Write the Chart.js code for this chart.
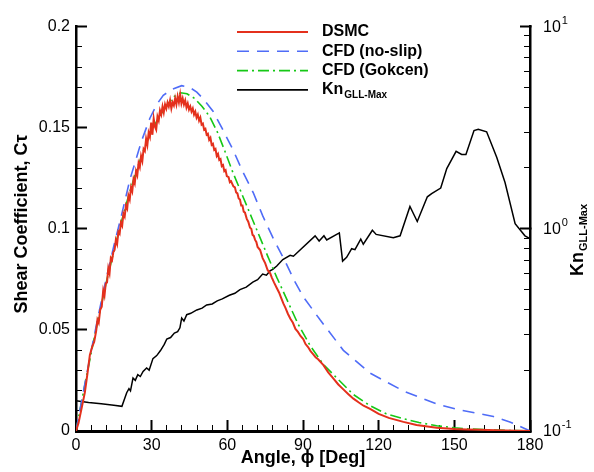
<!DOCTYPE html>
<html>
<head>
<meta charset="utf-8">
<script src="https://cdn.jsdelivr.net/npm/chart.js@4.4.1/dist/chart.umd.min.js"></script>
<style>
  body { margin: 0; background: #fff; }
  canvas { display: block; }
</style>
</head>
<body>
<canvas id="c" width="594" height="472"></canvas>
<script>
// Dados
const dsmcAngle = [0, 1, 2.3, 3.5, 4.5, 5.5, 6.5, 7.2, 8, 8.5,
  9, 9.6, 10.2, 10.8, 11.3, 11.8, 12.3, 12.8, 13.3, 13.8,
  14.3, 14.8, 15.3, 15.8, 16.3, 16.8, 17.3, 17.8, 18.3, 18.8,
  19.3, 19.8, 20.3, 20.8, 21.3, 21.8, 22.3, 22.8, 23.3, 23.8,
  24.3, 24.8, 25.3, 25.8, 26.3, 26.8, 27.3, 27.8, 28.3, 28.8,
  29.3, 29.8, 30.3, 30.8, 31.3, 31.8, 32.3, 32.8, 33.3, 33.8,
  34.3, 34.8, 35.3, 35.8, 36.3, 36.8, 37.3, 37.8, 38.3, 38.8,
  39.3, 39.8, 40.3, 40.8, 41.3, 41.8, 42.3, 42.8, 43.3, 43.8,
  44.3, 44.8, 45.3, 45.8, 46.3, 46.8, 47.3, 47.8, 48.3, 48.8,
  49.3, 49.8, 50.3, 50.8, 51.3, 51.8, 52.3, 52.8, 53.3, 53.8,
  54.3, 54.8, 55.3, 55.8, 56.3, 56.8, 57.3, 57.8, 58.3, 58.8,
  59.3, 59.8, 60.5, 61, 61.5, 62.4, 63, 63.5, 64, 64.5,
  65, 65.5, 66, 66.5, 67, 67.7, 68.3, 69, 69.5, 70,
  70.5, 71, 71.5, 72, 73, 74, 75, 76, 77, 77.6,
  78.5, 79.5, 80.5, 81.3, 82.2, 83, 84, 85, 86, 87,
  88, 89, 90.1, 91, 92, 93, 94, 95, 96, 98.1,
  100, 102, 104, 106, 108, 110, 112, 114, 116.6, 120,
  124, 129.8, 135, 143, 150, 155, 160, 170, 180];
const dsmcValue = [0, 0.004, 0.0117, 0.019, 0.028, 0.0376, 0.042, 0.044, 0.0495, 0.055,
  0.0535, 0.06, 0.0615, 0.0696, 0.067, 0.073, 0.0735, 0.0805, 0.078, 0.0855,
  0.0845, 0.0885, 0.0895, 0.0945, 0.0925, 0.0985, 0.0975, 0.103, 0.1015, 0.1075,
  0.106, 0.1115, 0.11, 0.1165, 0.1145, 0.1205, 0.1185, 0.1245, 0.1225, 0.1285,
  0.1265, 0.1325, 0.1305, 0.136, 0.1335, 0.1395, 0.1385, 0.1445, 0.1415, 0.1475,
  0.1455, 0.1525, 0.1465, 0.1545, 0.1505, 0.149, 0.1555, 0.1535, 0.1585, 0.1565,
  0.1605, 0.1575, 0.1615, 0.1595, 0.1625, 0.1605, 0.1635, 0.1595, 0.1625, 0.161,
  0.1645, 0.1615, 0.1655, 0.1625, 0.1665, 0.162, 0.1645, 0.1615, 0.1635, 0.16,
  0.162, 0.159, 0.1605, 0.158, 0.1595, 0.1565, 0.158, 0.155, 0.1565, 0.1535,
  0.155, 0.1515, 0.152, 0.149, 0.1495, 0.1465, 0.147, 0.144, 0.145, 0.1415,
  0.142, 0.139, 0.1395, 0.136, 0.137, 0.134, 0.1345, 0.131, 0.1315, 0.1285,
  0.129, 0.126, 0.1255, 0.123, 0.1235, 0.121, 0.1205, 0.118, 0.1175, 0.115,
  0.1145, 0.1115, 0.1115, 0.1085, 0.108, 0.1049, 0.1035, 0.1005, 0.1, 0.097,
  0.0965, 0.0945, 0.0935, 0.091, 0.0895, 0.0855, 0.083, 0.0795, 0.078, 0.076,
  0.0735, 0.071, 0.0685, 0.066, 0.0631, 0.061, 0.058, 0.0555, 0.0535, 0.0505,
  0.049, 0.047, 0.0455, 0.043, 0.0415, 0.0395, 0.038, 0.0365, 0.0355, 0.0326,
  0.029, 0.026, 0.023, 0.0206, 0.0182, 0.016, 0.0142, 0.0125, 0.0109, 0.0085,
  0.0065, 0.0045, 0.003, 0.0016, 0.001, 0.0008, 0.0006, 0.0003, 0];

const noSlipAngle = [0, 3, 6, 9, 12, 15, 18, 21.4, 26, 29.3,
  32, 34.6, 38, 41.9, 45, 47.9, 51, 54.4, 58, 62.4,
  66, 70.3, 74, 78.2, 83.5, 86.5, 90.1, 96.7, 106, 116.6,
  129.8, 143, 151, 158, 165.5, 172, 177.4, 180];
const noSlipValue = [0, 0.02, 0.0395, 0.058, 0.0755, 0.0915, 0.1065, 0.1245, 0.1435, 0.1547,
  0.1615, 0.166, 0.169, 0.1708, 0.170, 0.1676, 0.1635, 0.158, 0.1495, 0.1387,
  0.1285, 0.1178, 0.1065, 0.0953, 0.0824, 0.0745, 0.0664, 0.0551, 0.0399, 0.0286,
  0.0198, 0.0134, 0.0107, 0.009, 0.0072, 0.0045, 0.0015, 0];

const gokcenAngle = [0, 3, 6, 9, 12, 15, 18, 21, 24, 27,
  30, 33, 36, 39, 41.5, 44, 47, 50, 53, 56,
  59, 62, 66, 70, 73, 76, 79.6, 84.9, 88, 92.8,
  98, 103.4, 110, 116.6, 123, 129.8, 136, 143, 150, 156,
  165, 180];
const gokcenValue = [0, 0.0195, 0.0385, 0.0565, 0.0735, 0.089, 0.1035, 0.117, 0.129, 0.1395,
  0.1485, 0.1555, 0.161, 0.1655, 0.1673, 0.1668, 0.1645, 0.1605, 0.1555, 0.148,
  0.1385, 0.1285, 0.1165, 0.1045, 0.0955, 0.0865, 0.076, 0.0615, 0.053, 0.0423,
  0.033, 0.0262, 0.018, 0.0125, 0.0085, 0.0061, 0.0042, 0.0026, 0.0016, 0.001,
  0.0005, 0];

const knAngle = [0, 5, 10, 15, 18.2, 20.1, 21, 21.6, 22.6, 23.5,
  24.5, 25.5, 26.6, 28, 29, 30.5, 32, 33.5, 35, 36,
  37.5, 39, 40.3, 41.2, 41.9, 42.8, 43.9, 45.5, 47.9, 50,
  51.8, 54, 56, 58, 60.8, 63, 65, 67.5, 70.1, 72,
  74, 75.5, 76.9, 78, 79.6, 82, 84.9, 86.2, 94.8, 96.4,
  98.3, 99.4, 104.4, 105.7, 107.3, 109.3, 110.6, 112.9, 113.9, 117.5,
  119, 125.8, 128.5, 132.4, 135.3, 139.3, 141, 144.6, 147, 150.7,
  152.9, 154.6, 157.8, 159.5, 162.8, 166.8, 170.1, 174.1, 178, 180];
const knValue = [0.141, 0.1385, 0.1365, 0.134, 0.1324, 0.1547, 0.162, 0.158, 0.1827, 0.178,
  0.19, 0.186, 0.197, 0.205, 0.2, 0.228, 0.236, 0.25, 0.268, 0.285,
  0.29, 0.305, 0.31, 0.324, 0.362, 0.35, 0.376, 0.382, 0.397, 0.405,
  0.42, 0.425, 0.44, 0.45, 0.469, 0.48, 0.5, 0.515, 0.545, 0.56,
  0.597, 0.59, 0.619, 0.63, 0.655, 0.705, 0.74, 0.732, 0.923, 0.87,
  0.923, 0.88, 0.955, 0.692, 0.723, 0.797, 0.788, 0.89, 0.839, 0.983,
  0.938, 0.903, 0.923, 1.29, 1.087, 1.439, 1.494, 1.591, 1.985, 2.416,
  2.33, 2.33, 3.06, 3.11, 3.02, 2.26, 1.694, 1.059, 0.923, 0.894];

// Marcas dos eixos
const xTicks = [0, 30, 60, 90, 120, 150, 180];
const leftTicks = [0, 0.05, 0.1, 0.15, 0.2];
const rightDecades = [0.1, 1, 10];
const rightExp = ["-1", "0", "1"];

const xMinor = [];
for (let i = 0; i <= 30; i++) if (i % 5 !== 0) xMinor.push(i * 6);
const leftMinor = [];
for (let i = 0; i <= 20; i++) if (i % 5 !== 0) leftMinor.push(+(i * 0.01).toFixed(2));
const rightMinor = [];
[0.1, 1].forEach((d) => { for (let m = 2; m <= 9; m++) rightMinor.push(+(d * m).toFixed(2)); });

const FONT = '"Liberation Sans", Arial, Helvetica, sans-serif';
const RED = "#e4301c";
const BLUE = "#4f6cf7";
const GREEN = "#16c816";

function pairs(xs, ys) {
  return xs.map((x, i) => ({ x: x, y: ys[i] }));
}

function setTicks(list) {
  return (s) => { s.ticks = list.map((v) => ({ value: v })); };
}

// marcas para dentro (tickLength negativo), só a marca, sem grade
function tickGrid(len, w) {
  return { display: true, drawOnChartArea: false, drawTicks: true, tickLength: -len,
    tickWidth: w, tickColor: "#000", color: "#000" };
}

// legenda, rótulos 10^n e títulos
function drawTexts(chart) {
  const g = chart.ctx;
  const sx = chart.scales.x, sr = chart.scales.y2;
  const L = sx.getPixelForValue(0);
  const R = sx.getPixelForValue(180);
  g.save();
  g.fillStyle = "#000";
  g.textBaseline = "middle";
  g.textAlign = "left";
  rightDecades.forEach((d, k) => {
    const py = sr.getPixelForValue(d);
    g.font = "16px " + FONT;
    g.fillText("10", R + 13, py + 1);
    const w = g.measureText("10").width;
    g.font = "11px " + FONT;
    g.fillText(rightExp[k], R + 13 + w + 1, py - 6);
  });

  const lx0 = 237, lx1 = 308, tx = 322;
  const rows = [
    { label: "DSMC", color: RED, dash: [], w: 2 },
    { label: "CFD (no-slip)", color: BLUE, dash: [12, 8], w: 1.6 },
    { label: "CFD (Gokcen)", color: GREEN, dash: [11, 4, 2, 4], w: 1.6 },
    { label: "Kn", sub: "GLL-Max", color: "#000", dash: [], w: 1.6 }
  ];
  rows.forEach((r, i) => {
    const y = 32 + i * 19.3;
    g.strokeStyle = r.color;
    g.lineWidth = r.w;
    g.setLineDash(r.dash);
    g.beginPath(); g.moveTo(lx0, y); g.lineTo(lx1, y); g.stroke();
    g.setLineDash([]);
    g.font = "bold 16px " + FONT;
    g.fillText(r.label, tx, y);
    if (r.sub) {
      const w = g.measureText(r.label).width;
      g.font = "bold 10px " + FONT;
      g.fillText(r.sub, tx + w + 1, y + 5);
    }
  });

  g.font = "bold 18px " + FONT;
  g.textAlign = "center";
  g.fillText("Angle, \u03d5 [Deg]", (L + R) / 2, 458);

  g.save();
  g.translate(22, 224);
  g.rotate(-Math.PI / 2);
  g.fillText("Shear Coefficient, C\u03c4", 0, 0);
  g.restore();

  g.save();
  g.translate(578, 240);
  g.rotate(-Math.PI / 2);
  g.font = "bold 18px " + FONT;
  const knW = g.measureText("Kn").width;
  g.font = "bold 11px " + FONT;
  const subW = g.measureText("GLL-Max").width;
  const start = -(knW + subW + 1) / 2;
  g.textAlign = "left";
  g.font = "bold 18px " + FONT;
  g.fillText("Kn", start, 0);
  g.font = "bold 11px " + FONT;
  g.fillText("GLL-Max", start + knW + 1, 6);
  g.restore();

  g.restore();
}

const decor = {
  id: "decor",
  afterDraw(chart) {
    try { drawTexts(chart); } catch (e) { console.error(e); }
  }
};

new Chart(document.getElementById("c"), {
  type: "line",
  data: {
    datasets: [
      {
        label: "DSMC",
        data: pairs(dsmcAngle, dsmcValue),
        borderColor: RED,
        borderWidth: 2,
        yAxisID: "y",
      },
      {
        label: "CFD (no-slip)",
        data: pairs(noSlipAngle, noSlipValue),
        borderColor: BLUE,
        borderWidth: 1.6,
        borderDash: [12, 8],
        yAxisID: "y",
      },
      {
        label: "CFD (Gokcen)",
        data: pairs(gokcenAngle, gokcenValue),
        borderColor: GREEN,
        borderWidth: 1.6,
        borderDash: [11, 4, 2, 4],
        yAxisID: "y",
      },
      {
        label: "Kn GLL-Max",
        data: pairs(knAngle, knValue),
        borderColor: "#000",
        borderWidth: 1.5,
        yAxisID: "y2",
      },
    ],
  },
  options: {
    responsive: false,
    animation: false,
    events: [],
    layout: { padding: { top: 16, left: 0, right: 0, bottom: 0 } },
    elements: { point: { radius: 0 }, line: { tension: 0, fill: false } },
    plugins: { legend: { display: false }, tooltip: { enabled: false } },
    scales: {
      x: {
        type: "linear",
        position: "bottom",
        weight: 1,
        min: 0,
        max: 180,
        afterFit: (s) => { s.height = 41; },
        afterBuildTicks: setTicks(xTicks),
        grid: tickGrid(11, 2),
        border: { display: true, color: "#000", width: 3 },
        ticks: { color: "#000", font: { family: FONT, size: 16 }, padding: 16, maxRotation: 0,
          autoSkip: false, callback: (v) => String(v) },
      },
      xm: {
        type: "linear",
        position: "bottom",
        weight: 0,
        min: 0,
        max: 180,
        afterFit: (s) => { s.height = 0; },
        afterBuildTicks: setTicks(xMinor),
        grid: tickGrid(6, 1),
        border: { display: false },
        ticks: { display: false, autoSkip: false },
      },
      y: {
        type: "linear",
        position: "left",
        weight: 1,
        min: 0,
        max: 0.2,
        afterFit: (s) => { s.width = 76; },
        afterBuildTicks: setTicks(leftTicks),
        grid: tickGrid(11, 2),
        border: { display: true, color: "#000", width: 2.5 },
        ticks: { color: "#000", font: { family: FONT, size: 16 }, padding: 17, autoSkip: false,
          callback: (v) => String(+v.toFixed(2)) },
      },
      ym: {
        type: "linear",
        position: "left",
        weight: 0,
        min: 0,
        max: 0.2,
        afterFit: (s) => { s.width = 0; },
        afterBuildTicks: setTicks(leftMinor),
        grid: tickGrid(6, 1),
        border: { display: false },
        ticks: { display: false, autoSkip: false },
      },
      y2: {
        type: "logarithmic",
        position: "right",
        weight: 1,
        min: 0.1,
        max: 10,
        afterFit: (s) => { s.width = 64; },
        afterBuildTicks: setTicks(rightDecades),
        grid: tickGrid(10, 2),
        border: { display: true, color: "#000", width: 2.5 },
        ticks: { display: false, autoSkip: false },
      },
      y2m: {
        type: "logarithmic",
        position: "right",
        weight: 0,
        min: 0.1,
        max: 10,
        afterFit: (s) => { s.width = 0; },
        afterBuildTicks: setTicks(rightMinor),
        grid: tickGrid(6, 1),
        border: { display: false },
        ticks: { display: false, autoSkip: false },
      },
    },
  },
  plugins: [decor],
});
</script>
</body>
</html>
